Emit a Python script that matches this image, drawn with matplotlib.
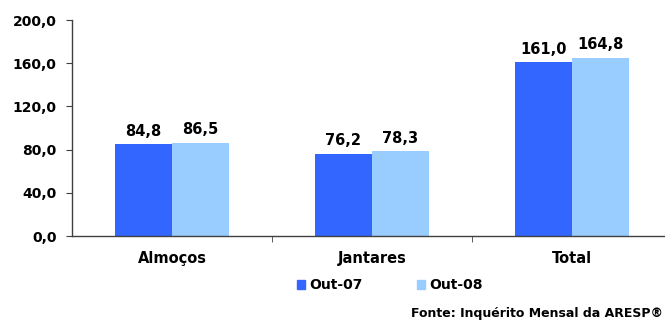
import matplotlib
matplotlib.use("Agg")
import matplotlib.pyplot as plt
import numpy as np

categories = ["Almoços", "Jantares", "Total"]
series_names = ["Out-07", "Out-08"]
out07 = [84.8, 76.2, 161.0]
out08 = [86.5, 78.3, 164.8]
y_ticks = [0, 40, 80, 120, 160, 200]
source_text = "Fonte: Inquérito Mensal da ARESP®"

colors = ["#3366FF", "#99CCFF"]
W, H = 665, 323
plt.rcParams["font.family"] = ["DejaVu Sans"]
plt.rcParams["font.weight"] = "bold"
FS = 10.5

fig = plt.figure(figsize=(W / 100, H / 100), dpi=100)
fig.patch.set_facecolor("white")
ax = fig.add_axes([72 / W, 1 - 236 / H, 600 / W, 216 / H])

x = np.arange(len(categories))
bw = 0.285
for vals, color, off in [(out07, colors[0], -bw / 2), (out08, colors[1], bw / 2)]:
    bars = ax.bar(x + off, vals, width=bw, color=color, edgecolor="none")
    for b, v in zip(bars, vals):
        ax.annotate(f"{v:.1f}".replace(".", ","),
                    (b.get_x() + b.get_width() / 2, v),
                    xytext=(0, 4), textcoords="offset points",
                    ha="center", va="bottom", fontsize=FS, fontweight="bold")

ax.set_xlim(-0.5, 2.5)
ax.set_ylim(0, 200)
ax.set_yticks(y_ticks)
ax.set_yticklabels([f"{t:.1f}".replace(".", ",") for t in y_ticks],
                   fontsize=10, fontweight="bold")
ax.set_xticks(x)
ax.set_xticklabels(categories, fontsize=FS, fontweight="bold")
ax.set_xticks([0.5, 1.5], minor=True)
ax.tick_params(axis="x", which="major", length=0, pad=11)
ax.tick_params(axis="x", which="minor", length=4, direction="out", color="#404040")
ax.tick_params(axis="y", length=4, direction="out", color="#404040", pad=7)
for s in ["top", "right"]:
    ax.spines[s].set_visible(False)
for s in ["left", "bottom"]:
    ax.spines[s].set_color("#404040")
    ax.spines[s].set_linewidth(1.0)

# legend
handles = [plt.Rectangle((0, 0), 1, 1, color=c) for c in colors]
fig.legend(handles, series_names, loc="center", bbox_to_anchor=(390 / W, 1 - 285 / H),
           ncol=2, frameon=False, fontsize=10, handlelength=0.6, handleheight=0.6,
           handletextpad=0.3, columnspacing=3.9)

fig.text(663 / W, 1 - 314 / H, source_text, ha="right", va="center",
         fontsize=9, fontweight="bold")

fig.savefig("out.png", dpi=100, facecolor="white")
